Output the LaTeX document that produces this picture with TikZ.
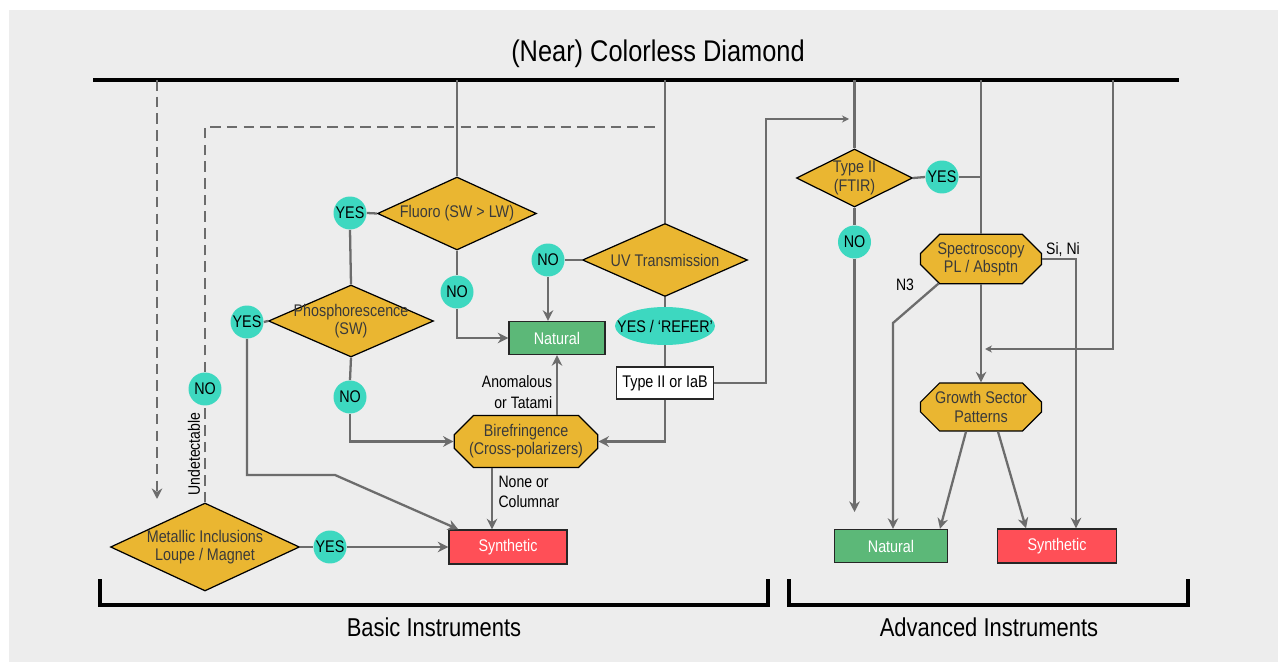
\documentclass[tikz,border=0pt]{standalone}
\usepackage{fontspec}
\setmainfont{Liberation Sans}[FakeStretch=0.85]
\usepackage{xcolor}
\usepackage{tikz}
\usetikzlibrary{calc, shapes.geometric, shapes.misc, arrows.meta, positioning}

\definecolor{panelgray}{HTML}{EDEDED}
\definecolor{goldfill}{HTML}{EAB631}
\definecolor{goldtext}{HTML}{3A3A3A}
\definecolor{tealfill}{HTML}{3DD8C0}
\definecolor{greenfill}{HTML}{5CB878}
\definecolor{redfill}{HTML}{FF4F57}
\definecolor{linegray}{HTML}{6C6C6C}

\newcommand{\flowfont}{\fontsize{9.6}{10.4}\selectfont}
\newcommand{\notefont}{\fontsize{9.4}{11.6}\selectfont}

\begin{document}
\begin{tikzpicture}[
    x=0.02cm, y=-0.02cm,
    flow_line/.style={draw=linegray, line width=1.3pt},
    flow_arrow/.style={draw=linegray, line width=1.3pt, -{Stealth[length=6pt, width=6pt]}},
    thin_arrow/.style={draw=linegray, line width=0.7pt, -{Stealth[length=4pt, width=4pt]}},
    dash_line/.style={draw=linegray, line width=1.3pt, dash pattern=on 6pt off 3.5pt},
    dash_arrow/.style={dash_line, -{Stealth[length=6pt, width=6pt]}},
    bar_line/.style={draw=black, line width=1.8pt},
    % decisions
    decision_node/.style={diamond, aspect=2.2, draw=black, fill=goldfill, line width=0.7pt, inner sep=-4pt, align=center, text=goldtext, font=\flowfont},
    test_node/.style={chamfered rectangle, chamfered rectangle angle=45, chamfered rectangle xsep=0.26cm, draw=black, fill=goldfill, line width=0.7pt, inner sep=1pt, align=center, text=goldtext, font=\flowfont},
    answer_node/.style={circle, fill=tealfill, minimum size=0.66cm, inner sep=0pt, font=\flowfont},
    % outcomes
    natural_node/.style={rectangle, draw=black!85, fill=greenfill, line width=0.8pt, text=white, font=\flowfont, minimum height=0.66cm},
    synthetic_node/.style={rectangle, draw=black!85, fill=redfill, line width=0.8pt, text=white, font=\flowfont, minimum height=0.68cm},
    type_node/.style={rectangle, draw=black!85, fill=white, line width=0.8pt, font=\flowfont, minimum width=1.88cm, minimum height=0.64cm},
    note_text/.style={font=\notefont, inner sep=1pt},
    title_text/.style={font=\fontsize{17}{20}\selectfont},
    group_text/.style={font=\fontsize{14.7}{17}\selectfont}
]
    % =========================================================================
    % PANEL AND HEADER
    % =========================================================================
    \useasboundingbox (0,0) rectangle (1278,662);
    \fill[white] (0,0) rectangle (1278,662);
    \fill[panelgray] (9,10) rectangle (1278,662);

    \node[title_text] (title) at (658,54) {(Near) Colorless Diamond};
    \coordinate (bar_w) at (93,80);
    \coordinate (bar_e) at (1179,80);
    \draw[bar_line] (bar_w) -- (bar_e);

    % =========================================================================
    % BASIC INSTRUMENTS
    % =========================================================================
    \node[decision_node, minimum width=3.18cm, minimum height=1.46cm] (fluoro) at (457,213.5) {Fluoro (SW > LW)};
    \node[answer_node] (fluoro_yes) at (350,213) {YES};
    \node[answer_node] (fluoro_no) at (457,292) {NO};
    \node[decision_node, minimum width=3.30cm, minimum height=1.44cm] (phos) at (351,321) {Phosphorescence\\(SW)};
    \node[answer_node] (phos_yes) at (247,322) {YES};
    \node[answer_node] (phos_no) at (350,397) {NO};

    \node[decision_node, minimum width=3.30cm, minimum height=1.46cm] (uv) at (665,260) {UV Transmission};
    \node[answer_node] (uv_no) at (548,260) {NO};
    \node[ellipse, fill=tealfill, minimum width=2.0cm, minimum height=0.76cm, inner xsep=-8pt, inner ysep=-2pt, font=\flowfont] (refer) at (665,326) {YES / ‘REFER’};
    \node[type_node] (type_iab) at (665,383) {Type II or IaB};

    \node[natural_node, minimum width=1.92cm] (nat_b) at (557,338) {Natural};
    \node[test_node, minimum width=2.66cm, minimum height=1.04cm] (biref) at (526,441.5) {Birefringence\\(Cross-polarizers)};
    \node[synthetic_node, minimum width=2.36cm] (syn_b) at (508,547) {Synthetic};

    \node[decision_node, minimum width=3.78cm, minimum height=1.76cm] (metal) at (205,547) {Metallic Inclusions\\Loupe / Magnet};
    \node[answer_node] (metal_yes) at (330,547) {YES};
    \node[answer_node] (metal_no) at (205,389) {NO};

    \node[note_text, rotate=90] (undet_lbl) at (194,454) {Undetectable};
    \node[note_text, align=right] (anom_lbl) at (517,392) {Anomalous\\or Tatami};
    \node[note_text, align=left] (none_lbl) at (529,492) {None or\\Columnar};

    \coordinate (ext_top) at (157,80);
    \coordinate (ext_end) at (157,499);
    \coordinate (dash_end) at (657,127);
    \coordinate (yes_bend1) at (247,475);
    \coordinate (yes_bend2) at (335,475);
    \coordinate (iab_turn) at (766,119);
    \coordinate (iab_end) at (849,119);

    \draw[dash_arrow] (ext_top) -- (ext_end);
    \draw[dash_line] (metal.north) -- (metal_no.south);
    \draw[dash_line] (metal_no.north) |- (dash_end);

    \draw[flow_line] (fluoro.north |- bar_w) -- (fluoro.north);
    \draw[flow_line] (fluoro.west) -- (fluoro_yes.east);
    \draw[flow_line] (fluoro_yes.south) -- (phos.north);
    \draw[flow_line] (fluoro.south) -- (fluoro_no.north);
    \draw[flow_arrow] (fluoro_no.south) |- (nat_b.west);
    \draw[flow_line] (phos.west) -- (phos_yes.east);
    \draw[flow_line] (phos.south) -- (phos_no.north);
    \draw[flow_arrow] (phos_no.south) |- (biref.west);
    \draw[flow_arrow] (phos_yes.south) -- (yes_bend1) -- (yes_bend2) -- ([xshift=0.2cm]syn_b.north west);

    \draw[flow_line] (uv.north |- bar_w) -- (uv.north);
    \draw[flow_line] (uv.west) -- (uv_no.east);
    \draw[flow_arrow] (uv_no.south) -- (uv_no.south |- nat_b.north);
    \draw[flow_line] (uv.south) -- (refer.north);
    \draw[flow_line] (refer.south) -- (type_iab.north);
    \draw[flow_arrow] (type_iab.south) |- (biref.east);
    \draw[thin_arrow] (type_iab.east) -| (iab_turn) -- (iab_end);

    \draw[flow_arrow] (nat_b.south |- biref.north) -- (nat_b.south);
    \draw[flow_arrow] ([xshift=-0.68cm]biref.south) -- ([xshift=-0.68cm]biref.south |- syn_b.north);
    \draw[flow_line] (metal.east) -- (metal_yes.west);
    \draw[flow_arrow] (metal_yes.east) -- (syn_b.west);

    % =========================================================================
    % ADVANCED INSTRUMENTS
    % =========================================================================
    \node[decision_node, minimum width=2.32cm, minimum height=1.16cm] (type_two) at (854.5,178) {Type II\\(FTIR)};
    \node[answer_node] (type_yes) at (942,177) {YES};
    \node[answer_node] (type_no) at (854.5,242) {NO};
    \node[test_node, minimum width=2.42cm, minimum height=0.96cm] (spectro) at (981,259) {Spectroscopy\\PL / Absptn};
    \node[test_node, minimum width=2.42cm, minimum height=0.96cm] (growth) at (981,407) {Growth Sector\\Patterns};
    \node[natural_node, minimum width=2.26cm] (nat_a) at (891,546) {Natural};
    \node[synthetic_node, minimum width=2.38cm] (syn_a) at (1057,546) {Synthetic};

    \node[note_text] (sini_lbl) at (1063,250) {Si, Ni};
    \node[note_text] (nthree_lbl) at (905,285) {N3};

    \coordinate (type_gap) at (854.5,512);
    \coordinate (n3_bend) at (893,323);
    \coordinate (adv_top) at (1113,80);
    \coordinate (adv_turn) at (1113,349);
    \coordinate (adv_end) at (985,349);

    \draw[flow_line] (type_two.north |- bar_w) -- (type_two.north);
    \draw[flow_line] (type_two.east) -- (type_yes.west);
    \draw[flow_line] (type_yes.east) -- (type_yes.east -| spectro.north);
    \draw[flow_line] (spectro.north |- bar_w) -- (spectro.north);
    \draw[flow_line] (type_two.south) -- (type_no.north);
    \draw[flow_arrow] (type_no.south) -- (type_gap);

    \draw[flow_arrow] (spectro.south) -- (growth.north);
    \draw[flow_arrow] (spectro.east) -| ([xshift=0.38cm]syn_a.north);
    \draw[flow_arrow] (spectro.210) -- (n3_bend) -- (n3_bend |- nat_a.north);
    \draw[thin_arrow] (adv_top) -- (adv_turn) -- (adv_end);

    \draw[flow_arrow] ([xshift=-0.3cm]growth.south) -- ([xshift=0.98cm]nat_a.north);
    \draw[flow_arrow] ([xshift=0.34cm]growth.south) -- ([xshift=-0.62cm]syn_a.north);

    % =========================================================================
    % INSTRUMENT GROUPS
    % =========================================================================
    \draw[bar_line] (100,579) -- (100,605) -- (768,605) -- (768,579);
    \draw[bar_line] (789,579) -- (789,605) -- (1188,605) -- (1188,579);
    \node[group_text] (basic_lbl) at (434,627) {Basic Instruments};
    \node[group_text] (adv_lbl) at (989,627) {Advanced Instruments};
\end{tikzpicture}
\end{document}
